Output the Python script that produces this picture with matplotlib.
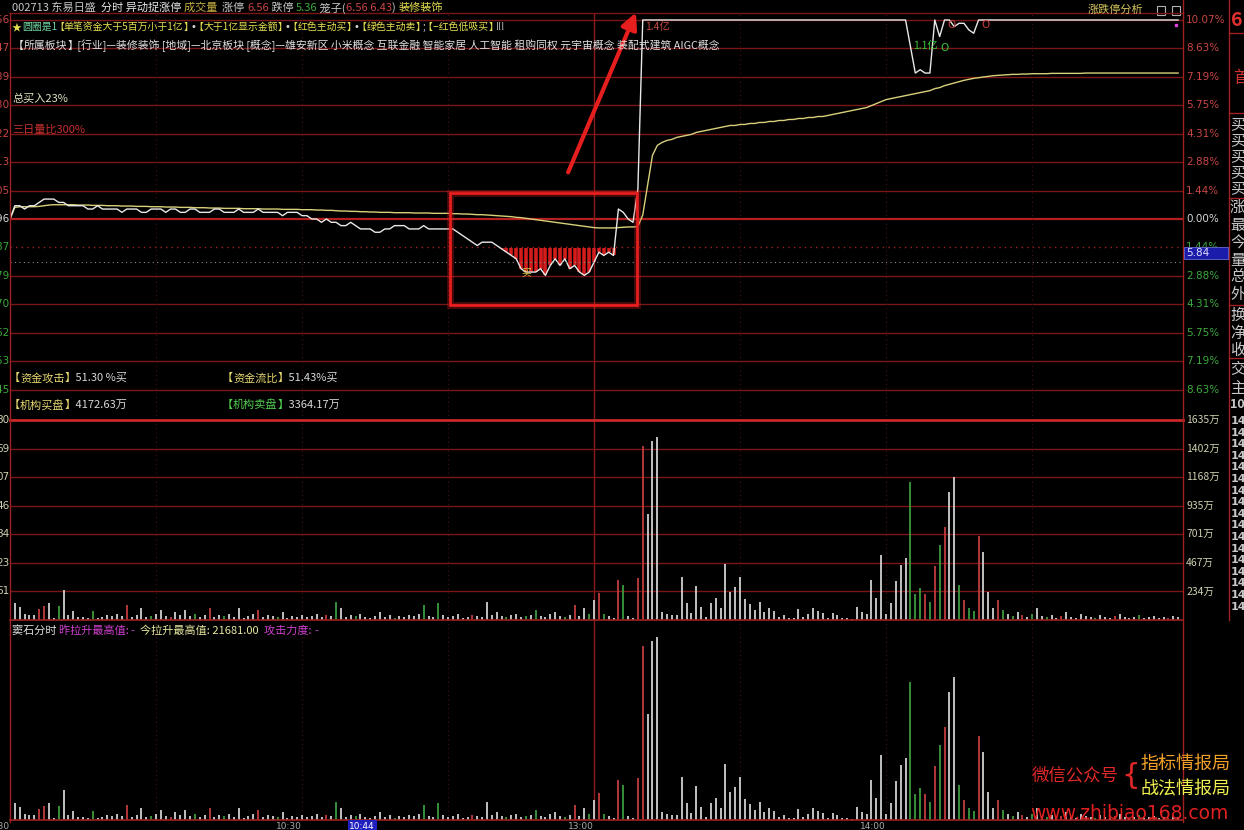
import re
import matplotlib
matplotlib.use('Agg')
import matplotlib.pyplot as plt
from matplotlib.lines import Line2D
from matplotlib.patches import Rectangle, FancyArrowPatch
from matplotlib.transforms import blended_transform_factory

plt.rcParams['font.family'] = ['Noto Sans CJK SC', 'DejaVu Sans']

W, H = 1244, 830

prev_close = 5.96
limit_up = 6.56
limit_down = 5.36
cursor_price = 5.83
dip_level = 5.874   # -1.44% line, the red "低吸" bars hang from it

# minute-by-minute last price, 9:30 .. 15:00 (241 points)
price = (
    [5.96, 6.00, 6.00, 5.99, 6.00, 6.00, 6.01, 6.02, 6.02, 6.02, 6.01,
     6.01, 6.00, 6.00, 6.00, 6.00, 5.99, 5.99, 6.00, 5.99, 5.99,
     5.99, 5.99, 5.98, 5.99, 5.99, 5.99, 5.98, 5.98, 5.99, 5.99,
     5.99, 5.98, 5.99, 5.99, 5.98, 5.98, 5.99, 5.99, 5.98, 5.98,
     5.98, 5.99, 5.99, 5.98, 5.98, 5.98, 5.99, 5.98, 5.98, 5.98,
     5.99, 5.98, 5.98, 5.98, 5.98, 5.97, 5.98, 5.98, 5.98, 5.97,
     5.97, 5.96, 5.96, 5.95, 5.96, 5.95, 5.95, 5.94, 5.94, 5.95,
     5.94, 5.93, 5.93, 5.93, 5.92, 5.92, 5.93, 5.93, 5.94, 5.94,
     5.94, 5.93, 5.93, 5.93, 5.94, 5.93, 5.93, 5.93, 5.93, 5.93,
     5.93, 5.92, 5.91, 5.90, 5.89, 5.88, 5.89, 5.89, 5.89, 5.88,
     5.87, 5.86, 5.85, 5.84, 5.81, 5.80, 5.80, 5.80, 5.81, 5.79,
     5.82, 5.84, 5.82, 5.84, 5.81, 5.82, 5.80, 5.79, 5.80, 5.83,
     5.86, 5.85, 5.86, 5.85, 5.99, 5.98, 5.96, 5.95, 6.05]
    + [6.56] * 55
    + [6.48, 6.40, 6.41, 6.40, 6.40, 6.56, 6.51, 6.56, 6.56, 6.54,
       6.55, 6.55, 6.53, 6.52, 6.56]
    + [6.56] * 41
)

# average price line
avg_price = [
    5.960, 5.995, 5.997, 5.997, 5.997, 5.997, 5.998, 6.000, 6.002, 6.003, 6.003,
    6.003, 6.003, 6.003, 6.002, 6.002, 6.002, 6.001, 6.001, 6.001, 6.000,
    6.000, 6.000, 5.999, 5.999, 5.999, 5.998, 5.998, 5.998, 5.997, 5.997,
    5.997, 5.996, 5.996, 5.996, 5.995, 5.995, 5.995, 5.994, 5.994, 5.994,
    5.993, 5.993, 5.993, 5.992, 5.992, 5.992, 5.992, 5.991, 5.991, 5.991,
    5.991, 5.990, 5.990, 5.990, 5.990, 5.989, 5.989, 5.989, 5.989, 5.988,
    5.988, 5.988, 5.987, 5.987, 5.986, 5.986, 5.985, 5.984, 5.984, 5.983,
    5.983, 5.982, 5.982, 5.981, 5.981, 5.980, 5.980, 5.980, 5.979, 5.979,
    5.979, 5.979, 5.978, 5.978, 5.978, 5.978, 5.977, 5.977, 5.977, 5.977,
    5.976, 5.976, 5.975, 5.975, 5.974, 5.973, 5.973, 5.972, 5.971, 5.970,
    5.969, 5.968, 5.967, 5.965, 5.964, 5.962, 5.960, 5.958, 5.956, 5.954,
    5.952, 5.950, 5.948, 5.946, 5.944, 5.942, 5.940, 5.938, 5.936, 5.934,
    5.933, 5.933, 5.933, 5.933, 5.934, 5.935, 5.936, 5.936, 5.937,
    5.972, 6.062, 6.152, 6.182, 6.191, 6.197, 6.200, 6.206, 6.209, 6.212,
    6.215, 6.221, 6.224, 6.227, 6.230, 6.233, 6.236, 6.239, 6.242, 6.242, 6.245,
    6.245, 6.248, 6.248, 6.251, 6.251, 6.254, 6.254, 6.257, 6.257, 6.260,
    6.260, 6.263, 6.263, 6.266, 6.266, 6.269, 6.269, 6.272, 6.275, 6.278,
    6.281, 6.284, 6.287, 6.290, 6.293, 6.296, 6.302, 6.308, 6.314, 6.320,
    6.323, 6.326, 6.329, 6.332, 6.335, 6.338, 6.341, 6.344, 6.347, 6.353,
    6.356, 6.362, 6.366, 6.370, 6.374, 6.378, 6.381, 6.384, 6.386, 6.388,
    6.390, 6.392, 6.393, 6.394, 6.395, 6.396, 6.396, 6.397, 6.397, 6.398,
    6.398, 6.398, 6.398, 6.399, 6.399, 6.399, 6.399, 6.399, 6.399, 6.399,
    6.400, 6.400, 6.400, 6.400, 6.400, 6.400, 6.400, 6.400, 6.400, 6.400,
    6.400, 6.400, 6.400, 6.400, 6.400, 6.400, 6.400, 6.400, 6.400, 6.400,
]

# volume per minute (万), minutes 1..240
volume = [
    139, 107, 49, 41, 41, 90, 115, 139, 16, 115, 246, 41, 74, 25, 25, 16, 74, 16, 25, 41,
    33, 49, 33, 123, 25, 41, 98, 25, 33, 49, 82, 33, 25, 66, 41, 82, 33, 49, 25, 41,
    98, 25, 41, 33, 49, 25, 98, 16, 33, 49, 82, 25, 41, 33, 25, 66, 16, 33, 25, 41,
    25, 33, 49, 25, 41, 33, 148, 98, 25, 41, 33, 49, 25, 16, 33, 66, 25, 41, 16, 33,
    25, 41, 33, 49, 123, 33, 25, 139, 41, 25, 33, 49, 16, 25, 41, 33, 25, 148, 41, 66,
    33, 25, 41, 49, 25, 33, 41, 82, 33, 25, 49, 66, 33, 25, 41, 123, 33, 98, 49, 164,
    221, 49, 33, 16, 327, 286, 33, 16, 343, 1422, 867, 1463, 1496, 65, 49, 41, 41, 352, 139, 57,
    278, 106, 25, 139, 180, 98, 458, 229, 270, 352, 172, 131, 82, 147, 65, 98, 74, 25, 41, 16,
    16, 90, 25, 49, 98, 74, 57, 16, 57, 41, 16, 16, 8, 106, 65, 49, 327, 180, 531, 49,
    139, 319, 450, 507, 1128, 213, 262, 213, 147, 441, 613, 760, 1046, 1169, 286, 164, 98, 74, 687, 556,
    229, 98, 164, 82, 49, 33, 65, 41, 25, 49, 98, 33, 25, 41, 16, 33, 65, 25, 16, 49,
    33, 25, 16, 41, 25, 16, 33, 49, 25, 16, 25, 41, 16, 25, 33, 16, 25, 16, 33, 25,
]
# r = up minute, g = down minute, w = unchanged
vol_dir = (
    "wwwwwrrwwgwwwwwwgwww" "wwwrwwwwgwwwrwwwwgww" "rwwgwwwwwwrwwwgwwwww"
    "wwwwrwgwwwgwwwwwwwgw" "wwwwgwwgwwwwwwrwwwww" "wgwwwgwgwwwwwgwrwwgw"
    "rgwwrgwwrrwwwwwwwwww" "wwwwwwwwwwwwwwwwwwww" "wwwwwwwwwwwwwwwwwwww"
    "wwwwgggrgrgrwwgrggrw" "wwrgwgwrwgwwgwwrwwww" "wwgwwwrwwwwgwwwwwrww"
)

pct_up = ['1.44%', '2.88%', '4.31%', '5.75%', '7.19%', '8.63%', '10.07%']
pct_down = ['1.44%', '2.88%', '4.31%', '5.75%', '7.19%', '8.63%']
price_up_lbl = ['6.05', '6.13', '6.22', '6.30', '6.39', '6.47', '6.56']
price_dn_lbl = ['5.87', '5.79', '5.70', '5.62', '5.53', '5.45']
vol_max = 1635
vol_lbl = ['234万', '467万', '701万', '935万', '1168万', '1402万', '1635万']
vol_left = ['61', '23', '84', '46', '07', '69', '80']
time_lbl = [(0, '9:30'), (60, '10:30'), (120, '13:00'), (180, '14:00')]
cursor_min, cursor_lbl = 74, '10:44'
big_orders = [(130.5, 6.54, '1.4亿', 'buy'), (185.5, 6.482, '1.1亿', 'sell')]
circles = [(193.5, 6.545, 'buy'), (200.5, 6.545, 'buy'), (192, 6.475, 'sell')]

RED = '#c84646'
GREEN = '#3caa3c'
GRID = '#7a1616'
WHITE = '#d8d8d8'
YEL = '#e6e050'

fig = plt.figure(figsize=(W / 100, H / 100), dpi=100, facecolor='black')
rend = fig.canvas.get_renderer()


def px_axes(x0, y0, x1, y1):
    a = fig.add_axes([x0 / W, 1 - y1 / H, (x1 - x0) / W, (y1 - y0) / H])
    a.axis('off')
    a.set_xlim(0, 241)
    return a


def ftext(x, y, s, **kw):
    kw.setdefault('va', 'center')
    return fig.text(x / W, 1 - y / H, s, **kw)


def fline(x0, y0, x1, y1, **kw):
    fig.add_artist(Line2D([x0 / W, x1 / W], [1 - y0 / H, 1 - y1 / H], **kw))


def seq(x, y, parts, size=8):
    # draw coloured runs one after another; squeeze the wide CJK brackets
    for s, c in parts:
        for piece in re.split(r'([【】•])', s):
            if not piece:
                continue
            if piece == '【':
                x -= 3
            fam = 'DejaVu Sans' if piece == '•' else None
            t = ftext(x, y, piece, color=c, fontsize=size, family=fam)
            x = t.get_window_extent(renderer=rend).x1
            if piece == '】':
                x -= 3


def xpx(j):
    return 10 + j * 1173 / 241


ax = px_axes(10, 13, 1183, 420)
axv = px_axes(10, 420, 1183, 620)
axb = px_axes(10, 620, 1183, 820)
ax.set_ylim(limit_down - 0.006, limit_up + 0.021)
axv.set_ylim(0, vol_max)
axb.set_ylim(0, vol_max)

# price grid
step = (limit_up - prev_close) / 7
rt = blended_transform_factory(ax.transAxes, ax.transData)
ax.axhline(prev_close, color='#b42020', lw=1.6)
ax.text(1.0027, prev_close, '0.00%', transform=rt, color=WHITE, fontsize=7.5,
        va='center', clip_on=False, family='DejaVu Sans')
ax.text(-0.0005, prev_close, '5.96', transform=rt, color=WHITE, fontsize=7.5,
        va='center', ha='right', clip_on=False, family='DejaVu Sans')
for k in range(1, 8):
    lv = prev_close + k * step
    ax.axhline(lv, color=GRID, lw=1.0)
    ax.text(1.0027, lv, pct_up[k - 1], transform=rt, color=RED, fontsize=7.5,
            va='center', clip_on=False, family='DejaVu Sans')
    ax.text(-0.0005, lv, price_up_lbl[k - 1], transform=rt, color=RED, fontsize=7.5,
            va='center', ha='right', clip_on=False, family='DejaVu Sans')
for k in range(1, 7):
    lv = prev_close - k * step
    ax.axhline(lv, color=GRID if k > 1 else '#a02020', lw=1.0,
               ls='-' if k > 1 else (0, (1, 3)))
    ax.text(1.0027, lv, pct_down[k - 1], transform=rt, color=GREEN, fontsize=7.5,
            va='center', clip_on=False, family='DejaVu Sans')
    ax.text(-0.0005, lv, price_dn_lbl[k - 1], transform=rt, color=GREEN, fontsize=7.5,
            va='center', ha='right', clip_on=False, family='DejaVu Sans')

# vertical time grid
for a in (ax, axv, axb):
    for j in (30, 60, 90, 150, 180, 210):
        a.axvline(j, color='#4a1010', lw=0.8, ls=(0, (1, 3)))
    a.axvline(120, color='#8c1c1c', lw=1.0)

# red low-suck bars, price, average
mins = list(range(len(price)))
dip = [j for j in mins if price[j] < dip_level]
ax.vlines(dip, [price[j] for j in dip], dip_level, color='#d41c1c', lw=2.6)
ax.plot(mins, avg_price, color='#d8d07a', lw=1.0)
ax.plot(mins, price, color='#e8e8e8', lw=1.0)
ax.text(106, 5.80, '买', color='#e0c040', fontsize=7, ha='center', va='center')

ax.axhline(cursor_price, color='#8a8a8a', lw=0.8, ls=(0, (1, 3)))
fig.add_artist(Rectangle((1184 / W, 1 - 259 / H), 44 / W, 12 / H,
                         transform=fig.transFigure, facecolor='#1c1caa',
                         edgecolor='#6a6ad0', lw=0.6, zorder=5))
ftext(1186, 253, '5.84', color='#e0e0ff', fontsize=7.5, family='DejaVu Sans',
      zorder=6)

for j, p, s, side in big_orders:
    ax.text(j, p, s, color=RED if side == 'buy' else '#3cc83c', fontsize=7.5,
            va='center', ha='left')
for j, p, side in circles:
    ax.text(j, p, 'O', color='#c83c3c' if side == 'buy' else '#3cc83c',
            fontsize=7.5, ha='center', va='center', family='DejaVu Sans')
ax.plot([239.5], [6.545], 's', ms=2, color='#e040e0')

# volume panels
cmap = {'r': '#c03c3c', 'g': '#3c9c3c', 'w': '#d0d0d0'}
vx = list(range(1, len(volume) + 1))
vc = [cmap[c] for c in vol_dir]
vstep = vol_max / 7
vt = blended_transform_factory(axv.transAxes, axv.transData)
for k in range(1, 7):
    axv.axhline(vstep * k, color=GRID, lw=1.0)
for k in range(1, 8):
    axv.text(1.0027, vstep * k, vol_lbl[k - 1], transform=vt, color='#cfcfb0',
             fontsize=7.5, va='center', clip_on=False)
    axv.text(-0.0005, vstep * k, vol_left[k - 1], transform=vt, color='#cfcfb0',
             fontsize=7.5, va='center', ha='right', clip_on=False, family='DejaVu Sans')
for a in (axv, axb):
    a.vlines(vx, 0, volume, colors=vc, lw=1.3)

# frame lines
fline(10, 13, 1183, 13, color=GRID, lw=1.0)
fline(10, 420, 1183, 420, color='#c82828', lw=2.0)
fline(10, 620, 1183, 620, color='#a02020', lw=1.2)
fline(10, 820, 1183, 820, color='#a02020', lw=1.2)
fline(10, 13, 10, 822, color='#a02020', lw=1.0)
fline(1183, 0, 1183, 822, color='#a02020', lw=1.0)
fline(1229, 0, 1229, 620, color='#a02020', lw=1.0)
for yy in (33, 113, 198, 305, 358):
    fline(1229, yy, 1244, yy, color='#a02020', lw=1.0)

# time axis
for j, s in time_lbl:
    ftext(xpx(j), 826, s, color='#a8a8a8', fontsize=6.5, ha='right',
          family='DejaVu Sans')
ftext(xpx(cursor_min) - 8, 826, cursor_lbl, color='#ffffff', fontsize=6.5,
      ha='center', family='DejaVu Sans',
      bbox=dict(facecolor='#2020c0', edgecolor='none', pad=1.2))

# header and info texts
seq(12, 8, [('002713 东易日盛  ', '#c8c8c8'), ('分时 异动捉涨停 ', '#e8e8e8'),
            ('成交量  ', '#c8b040'), ('涨停 ', '#c8c8c8'), ('6.56', RED),
            (' 跌停 ', '#c8c8c8'), ('5.36', GREEN), (' 笼子(', '#c8c8c8'),
            ('6.56 6.43', RED), (') ', '#c8c8c8'), ('装修装饰', YEL)])
seq(12, 27, [('★', YEL), ('圆圈是1', '#70d8a0'),
             ('【单笔资金大于5百万小于1亿】', YEL), ('•', WHITE),
             ('【大于1亿显示金额】', YEL), ('•', WHITE), ('【红色主动买】', YEL),
             ('•', WHITE), ('【绿色主动卖】', YEL), (';', WHITE),
             ('【--红色低吸买】', YEL), ('!!!', WHITE)], size=7.1)
seq(16, 46, [('【所属板块】 [行业]—装修装饰 [地域]—北京板块 [概念]—雄安新区 小米概念 '
              '互联金融 智能家居 人工智能 租购同权 元宇宙概念 装配式建筑 AIGC概念', '#e0e0e0')],
    size=7.8)
ftext(12, 98, '总买入23%', color='#e0e0c0', fontsize=8)
ftext(12, 130, '三日量比300%', color='#c83030', fontsize=8)
seq(12, 378, [('【资金攻击】', '#e8d870'), (' 51.30 %买', WHITE)])
seq(225, 378, [('【资金流比】', '#e8d870'), (' 51.43%买', WHITE)])
seq(12, 405, [('【机构买盘】', '#e8d870'), (' 4172.63万', WHITE)])
seq(225, 405, [('【机构卖盘】', '#50d050'), (' 3364.17万', WHITE)])
seq(12, 631, [('窦石分时 ', '#e0e0e0'), ('昨拉升最高值: ', '#d040d0'), ('-  ', '#d040d0'),
              ('今拉升最高值: 21681.00  ', '#e8e8a0'), ('攻击力度: ', '#d040d0'),
              ('-', '#d040d0')])
ftext(1088, 10, '涨跌停分析', color='#d8c860', fontsize=8)
for bx in (1157, 1172):
    fig.add_artist(Rectangle((bx / W, 1 - 15 / H), 8 / W, 9 / H, transform=fig.transFigure,
                             facecolor='none', edgecolor='#b0b0b0', lw=0.8))

# right side strip (clipped panel)
ftext(1231, 20, '6.56', color='#e03030', fontsize=14, fontweight='bold')
ftext(1233, 78, '首', color='#d03030', fontsize=12)
side_chars = ['买', '买', '买', '买', '买', '涨', '最', '今', '量', '总', '外',
              '换', '净', '收', '交', '主', '10']
side_y = [125, 141, 157, 173, 189, 207, 225, 243, 260, 277, 295, 315, 333, 350,
          370, 388, 404]
for s, yy in zip(side_chars, side_y):
    ftext(1230, yy, s, color='#c8c8c8', fontsize=11 if s != '10' else 9,
          fontweight='bold' if s == '10' else 'normal')
for i in range(17):
    ftext(1231, 421 + i * 11.6, '14', color='#c8c8c8', fontsize=8,
          fontweight='bold', family='DejaVu Sans')

# annotation box and arrow
for lw, al in ((5, 0.3), (2, 1.0)):
    fig.add_artist(Rectangle((450 / W, 1 - 305 / H), 187 / W, 112 / H,
                             transform=fig.transFigure, fill=False,
                             edgecolor='#e61e1e', lw=lw, alpha=al))
fig.add_artist(FancyArrowPatch((567 / W, 1 - 175 / H), (637 / W, 1 - 10 / H),
                               transform=fig.transFigure, arrowstyle='-|>',
                               mutation_scale=24, color='#e61e1e', lw=3))

# watermark
ftext(1032, 775, '微信公众号', color='#e02828', fontsize=12.5)
ftext(1121, 776, '{', color='#e02828', fontsize=21, family='DejaVu Sans')
ftext(1140, 764, '指标情报局', color='#f0a028', fontsize=13)
ftext(1140, 789, '战法情报局', color='#f0f050', fontsize=13)
url = ftext(1030, 813, 'www.zhibiao168.com', color='#e02020', fontsize=15,
            family=['Liberation Sans Narrow', 'DejaVu Sans'])
url.set_fontsize(15 * 200 / url.get_window_extent(renderer=rend).width)

fig.savefig('out.png', dpi=100, facecolor='black')
